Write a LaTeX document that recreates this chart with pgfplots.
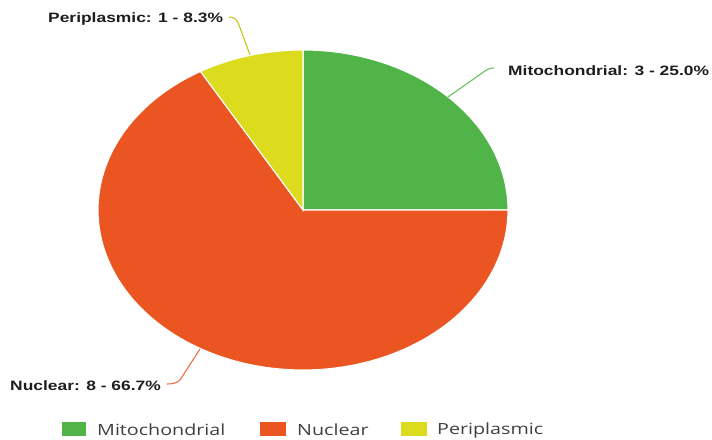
\documentclass[border=0pt]{standalone}
\usepackage{pgfplots}
\pgfplotsset{compat=1.18}
\usepackage{graphicx}
\usepackage{fontspec}
\setmainfont{Liberation Sans}
\newfontfamily\legendfont{Open Sans}

\definecolor{mito}{RGB}{80,180,72}
\definecolor{nucl}{RGB}{234,85,34}
\definecolor{peri}{RGB}{221,219,30}
\definecolor{labeltext}{RGB}{30,30,30}

% protein counts per localisation
\def\nMito{3}
\def\nNucl{8}
\def\nPeri{1}
\pgfmathsetmacro{\nTot}{\nMito+\nNucl+\nPeri}

% slice boundaries, clockwise from 12 o'clock
\pgfmathsetmacro{\aZero}{90}
\pgfmathsetmacro{\aOne}{\aZero-360*\nMito/\nTot}
\pgfmathsetmacro{\aTwo}{\aOne-360*\nNucl/\nTot}
\pgfmathsetmacro{\aThree}{\aTwo-360*\nPeri/\nTot}

% pie geometry (centre and radii, stretched horizontally)
\def\cx{303}
\def\cy{229}
\def\rx{205}
\def\ry{160}

\newcommand{\labelbox}[1]{\scalebox{1.28}[1]{\fontsize{13.6}{15}\selectfont\bfseries #1}}
\newcommand{\legendbox}[1]{\scalebox{1.28}[1]{\legendfont\fontsize{15.4}{17}\selectfont #1}}

\begin{document}
\begin{tikzpicture}
\begin{axis}[
  scale only axis, width=712pt, height=439pt,
  xmin=0, xmax=712, ymin=0, ymax=439,
  hide axis, clip=false,
]
\path (axis cs:0,0) rectangle (axis cs:712,439);

\addplot[draw=white, line width=1.1pt, fill=mito, domain=\aOne:\aZero, samples=60, variable=\t]
  ({\cx+\rx*cos(\t)}, {\cy+\ry*sin(\t)}) -- (axis cs:\cx,\cy) -- cycle;
\addplot[draw=white, line width=1.1pt, fill=nucl, domain=\aTwo:\aOne, samples=120, variable=\t]
  ({\cx+\rx*cos(\t)}, {\cy+\ry*sin(\t)}) -- (axis cs:\cx,\cy) -- cycle;
\addplot[draw=white, line width=1.1pt, fill=peri, domain=\aThree:\aTwo, samples=30, variable=\t]
  ({\cx+\rx*cos(\t)}, {\cy+\ry*sin(\t)}) -- (axis cs:\cx,\cy) -- cycle;

% leader lines
\draw[peri!90!black, line width=1.1pt] (axis cs:250,384) -- (axis cs:239,414)
  .. controls (axis cs:237,419) and (axis cs:235,422) .. (axis cs:229,422);
\draw[mito!85!white, line width=1.1pt] (axis cs:448,342) -- (axis cs:485,368)
  .. controls (axis cs:488,370) and (axis cs:490,371) .. (axis cs:494,371);
\draw[nucl!85!white, line width=1.1pt] (axis cs:200,90) -- (axis cs:180,59)
  .. controls (axis cs:177,56) and (axis cs:173,55) .. (axis cs:167,55);

% slice labels
\node[anchor=west, inner sep=0pt, text=labeltext] at (axis cs:48,420) {\labelbox{Periplasmic: 1 - 8.3\%}};
\node[anchor=west, inner sep=0pt, text=labeltext] at (axis cs:508,368.5) {\labelbox{Mitochondrial: 3 - 25.0\%}};
\node[anchor=west, inner sep=0pt, text=labeltext] at (axis cs:10,53) {\labelbox{Nuclear: 8 - 66.7\%}};

% legend
\fill[mito] (axis cs:62,3) rectangle (axis cs:86,17);
\node[anchor=west, inner sep=0pt, text=labeltext!85!white] at (axis cs:97,9) {\legendbox{Mitochondrial}};
\fill[nucl] (axis cs:260,3) rectangle (axis cs:286,17);
\node[anchor=west, inner sep=0pt, text=labeltext!85!white] at (axis cs:297,9) {\legendbox{Nuclear}};
\fill[peri] (axis cs:401,3) rectangle (axis cs:427,17);
\node[anchor=west, inner sep=0pt, text=labeltext!85!white] at (axis cs:437,9) {\legendbox{Periplasmic}};
\end{axis}
\end{tikzpicture}
\end{document}
